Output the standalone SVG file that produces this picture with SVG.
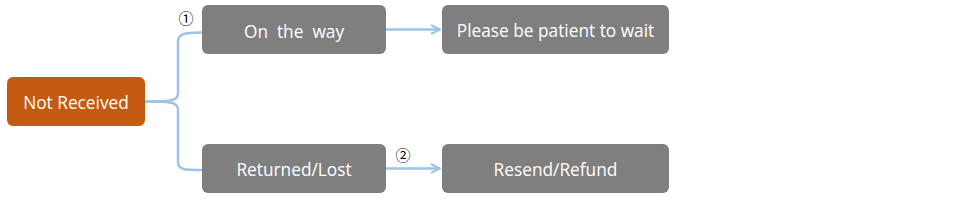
<svg xmlns="http://www.w3.org/2000/svg" width="967" height="202" viewBox="0 0 967 202">
<defs>
<style>
.box{fill:#7f7f7f}
.root{fill:#c55a11}
.t{font-family:"Open Sans","Liberation Sans",Arial,sans-serif;font-size:17.3px;fill:#ffffff;text-anchor:middle;dominant-baseline:central;white-space:pre}
.n{font-family:"Noto Sans CJK SC","DejaVu Sans",sans-serif;font-size:15px;fill:#000;text-anchor:middle;dominant-baseline:central}
.c{fill:none;stroke:#9dc3e6;stroke-width:2.5}
</style>
<marker id="arr2" viewBox="0 0 12 12" refX="11" refY="6" markerWidth="12" markerHeight="12" orient="auto" markerUnits="userSpaceOnUse">
<path d="M2,1.5 L11,6 L2,10.5" fill="none" stroke="#9dc3e6" stroke-width="2"/>
</marker>
</defs>
<rect width="967" height="202" fill="#ffffff"/>
<g id="connectors">
<path class="c" d="M145,101.5 C165,101.5 178,102 178,94 L178,42 C178,33 185,33 202,32.5"/>
<path class="c" d="M145,101.5 C165,101.5 178,101 178,109 L178,162 C178,170 185,170 202,170"/>
<path class="c" d="M386,29.5 L440,29.5" marker-end="url(#arr2)"/>
<path class="c" d="M386,168.5 L440,168.5" marker-end="url(#arr2)"/>
<text class="n" x="186" y="17">①</text>
<text class="n" x="403" y="154">②</text>
</g>
<g id="not-received">
<rect class="root" x="7" y="77" width="138" height="49" rx="6"/>
<text class="t" x="76" y="102">Not Received</text>
</g>
<g id="on-the-way">
<rect class="box" x="202" y="5" width="184" height="49" rx="6"/>
<text class="t" x="294" y="31">On  the  way</text>
</g>
<g id="returned-lost">
<rect class="box" x="202" y="144" width="184" height="49" rx="6"/>
<text class="t" x="294" y="169">Returned/Lost</text>
</g>
<g id="please-wait">
<rect class="box" x="442" y="5" width="227" height="49" rx="6"/>
<text class="t" x="555.5" y="30">Please be patient to wait</text>
</g>
<g id="resend-refund">
<rect class="box" x="442" y="144" width="227" height="49" rx="6"/>
<text class="t" x="555.5" y="169">Resend/Refund</text>
</g>
</svg>
